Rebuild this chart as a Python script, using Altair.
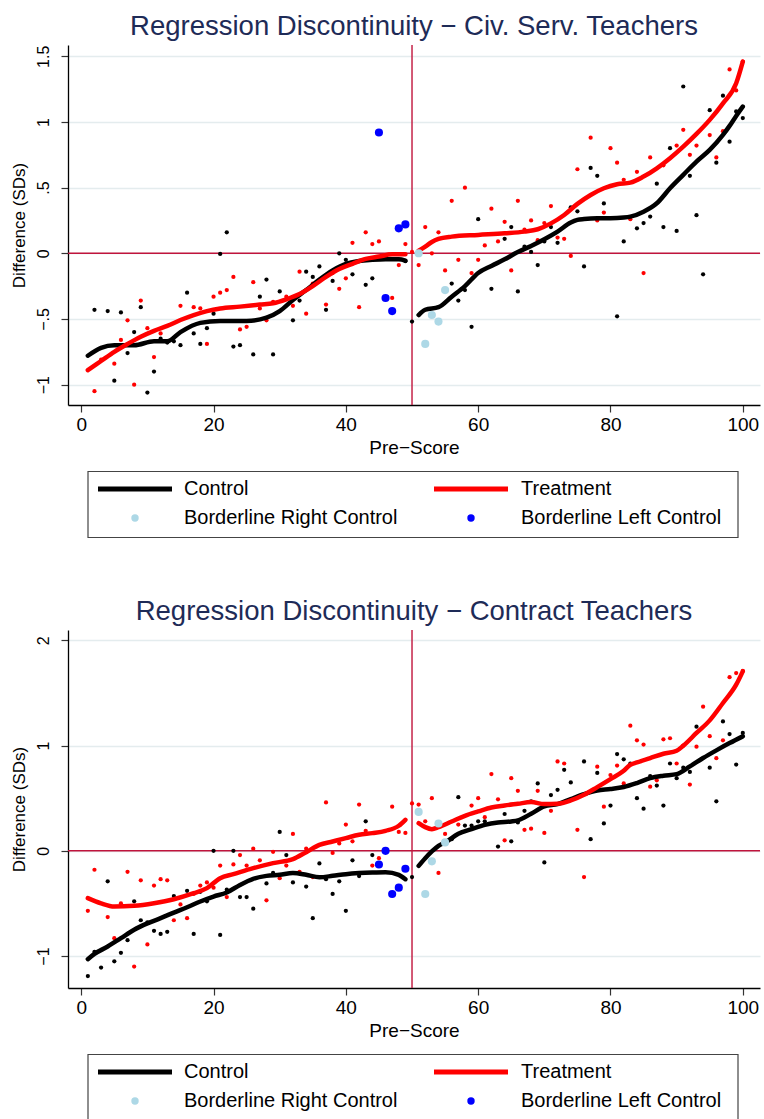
import altair as alt
import pandas as pd

FONT = "Liberation Sans"
TITLE_COLOR = "#1e2b57"
REF_COLOR = "#c0143c"
GRID_COLOR = "#e4ecee"

# ---------------- Panel 1: Civ. Serv. Teachers ----------------
P1_TITLE = "Regression Discontinuity \u2212 Civ. Serv. Teachers"
P1_CTRL_X = [2, 4, 5, 6, 7, 8, 9, 10, 11, 12, 13, 14, 15, 16, 17, 18, 19, 20, 21, 22, 23, 24, 26, 27, 28, 29, 30,
             32, 33, 34, 35, 36, 37, 38, 39, 40, 41, 42, 43, 44, 49, 50,
             56, 57, 58, 59, 60, 62, 64, 65, 66, 67, 68, 69, 70, 71, 72, 74, 75, 76, 77, 78, 79, 81, 82, 84, 85,
             86, 87, 88, 89, 90, 91, 92, 93, 94, 95, 96, 97, 98, 99, 100]
P1_CTRL_Y = [-0.43, -0.44, -0.97, -0.45, -0.76, -0.60, -0.41, -1.06, -0.90, -0.65, -0.68, -0.67, -0.70, -0.30, -0.61,
             -0.69, -0.57, -0.46, -0.005, 0.16, -0.71, -0.70, -0.77, -0.33, -0.20, -0.77, -0.29,
             -0.51, -0.36, -0.14, -0.18, -0.10, -0.43, -0.21, 0.0, -0.05, -0.16, -0.06, -0.24, -0.19, -0.06, -0.52,
             -0.23, -0.36, -0.28, -0.56, 0.26, -0.27, 0.11, 0.20, -0.29, 0.05, 0.01, -0.09, 0.09, 0.20, 0.08, 0.35,
             0.32, -0.10, 0.65, 0.59, 0.38, -0.48, 0.09, 0.19, 0.23,
             0.28, 0.53, 0.20, 0.80, 0.17, 1.27, 0.59, 0.29, -0.16, 1.09, 0.69, 1.20, 0.85, 1.08, 1.03]
P1_TREAT_X = [2, 3, 5, 6, 7, 8, 9, 10, 11, 12, 15, 17, 18, 19, 20, 21, 22, 23, 24, 25, 26, 27, 28, 29, 31, 32, 33,
              34, 35, 37, 38, 39, 40, 41, 42, 43, 44, 45, 47, 48, 49, 50, 51,
              52, 53, 54, 55, 56, 57, 58, 59, 60, 61, 62, 63, 64, 65, 66, 67, 68, 69, 70, 71, 72, 73, 74, 75, 77,
              78, 79, 80, 81, 82, 83, 84, 85, 86, 88, 90, 91, 92, 93, 95, 96, 97, 98, 99, 100]
P1_TREAT_Y = [-1.05, -0.81, -0.84, -0.66, -0.51, -1.00, -0.36, -0.57, -0.79, -0.61, -0.40, -0.41, -0.42, -0.69,
              -0.33, -0.30, -0.28, -0.18, -0.58, -0.56, -0.22, -0.42, -0.51, -0.37, -0.33, -0.40, -0.14,
              -0.46, -0.23, -0.39, -0.15, -0.27, -0.19, 0.08, -0.41, 0.16, 0.07, 0.09, -0.34, -0.09, 0.07, 0.01, -0.09,
              0.20, 0.0, 0.16, -0.13, 0.40, -0.05, 0.50, -0.15, -0.05, 0.06, 0.34, 0.09, 0.24, -0.13, 0.40, 0.18,
              0.25, 0.10, 0.23, 0.36, 0.12, 0.11, -0.02, 0.64, 0.88,
              0.25, 0.31, 0.80, 0.69, 0.56, 0.26, 0.62, -0.15, 0.73, 0.67, 0.82, 0.94, 0.75, 0.82, 0.90, 0.73, 0.93,
              1.40, 1.24, 1.46]
P1_BLUE_X = [45, 46, 47, 48, 49]
P1_BLUE_Y = [0.92, -0.34, -0.44, 0.19, 0.22]
P1_LBLUE_X = [51, 52, 53, 54, 55]
P1_LBLUE_Y = [0.0, -0.69, -0.47, -0.52, -0.28]
P1_CL_X = [1, 3, 5, 8, 11, 13, 15, 18, 21, 25, 28, 30, 32, 34, 36, 38, 40, 42, 44, 46, 48, 49]
P1_CL_Y = [-0.78, -0.72, -0.70, -0.70, -0.67, -0.67, -0.60, -0.53, -0.515, -0.515, -0.49, -0.44, -0.355, -0.28,
           -0.20, -0.13, -0.08, -0.058, -0.05, -0.046, -0.046, -0.056]
P1_TL_X = [1, 3, 5, 7, 9, 11, 13, 15, 17, 19, 21, 24, 27, 29, 31, 33, 35, 37, 39, 41, 43, 45, 47, 49]
P1_TL_Y = [-0.89, -0.82, -0.75, -0.69, -0.635, -0.59, -0.553, -0.508, -0.47, -0.44, -0.42, -0.406, -0.39, -0.38,
           -0.35, -0.31, -0.25, -0.18, -0.12, -0.08, -0.043, -0.025, -0.008, -0.008]
P1_CR_X = [51, 52, 54, 56, 58, 60, 62, 64, 66, 68, 70, 72, 74, 75, 76, 78, 80, 82, 83, 85, 87, 89, 91, 93, 95, 97,
           98, 99, 100]
P1_CR_Y = [-0.47, -0.43, -0.41, -0.33, -0.25, -0.15, -0.096, -0.046, 0.01, 0.056, 0.107, 0.165, 0.234, 0.254, 0.261,
           0.267, 0.267, 0.272, 0.279, 0.317, 0.381, 0.495, 0.597, 0.698, 0.787, 0.901, 0.97, 1.046, 1.117]
P1_TR_X = [51, 52, 53, 54, 56, 60, 64, 67, 69, 71, 73, 75, 77, 79, 81, 83, 85, 87, 89, 91, 93, 95, 97, 99, 100]
P1_TR_Y = [0.02, 0.051, 0.086, 0.109, 0.127, 0.14, 0.152, 0.165, 0.183, 0.228, 0.292, 0.376, 0.444, 0.495, 0.526,
           0.538, 0.584, 0.647, 0.724, 0.812, 0.909, 1.016, 1.142, 1.295, 1.46]
P1_YDOMAIN = [-1.155, 1.586]
P1_YTICKS = [-1, -0.5, 0, 0.5, 1, 1.5]

# ---------------- Panel 2: Contract Teachers ----------------
P2_TITLE = "Regression Discontinuity \u2212 Contract Teachers"
P2_CTRL_X = [1, 2, 3, 4, 5, 6, 7, 8, 9, 10, 11, 12, 13, 14, 16, 17, 18, 19, 20, 21, 22, 23, 24, 25, 26, 28, 29, 30,
             31, 32, 34, 35, 36, 37, 38, 39, 40, 41, 42, 43, 44, 50,
             56, 57, 58, 59, 60, 61, 63, 64, 65, 66, 67, 68, 69, 70, 71, 72, 73, 74, 76, 77, 78, 79, 80, 81, 82, 83,
             84, 85, 86, 87, 88, 89, 90, 91, 92, 93, 95, 96, 97, 98, 99, 100]
P2_CTRL_Y = [-1.19, -0.96, -1.11, -0.29, -1.05, -0.97, -0.85, -0.48, -0.66, -0.68, -0.76, -0.79, -0.77, -0.43,
             -0.38, -0.79, -0.39, -0.48, 0.0, -0.80, -0.37, 0.0, -0.44, -0.44, -0.55, -0.31, -0.21, 0.18,
             -0.04, -0.30, -0.34, -0.64, -0.12, -0.27, -0.41, -0.29, -0.57, -0.09, -0.24, 0.28, -0.04, -0.25,
             0.11, 0.51, 0.24, 0.24, 0.28, 0.28, 0.04, 0.35, 0.09, 0.27, 0.38, 0.47, 0.64, -0.11, 0.53, 0.58, 0.77,
             0.65, 0.85, 0.11, 0.74, 0.26, 0.43, 0.92, 0.87, 0.83,
             0.50, 0.40, 0.71, 0.62, 0.43, 0.83, 0.69, 0.79, 0.75, 1.18, 0.79, 0.47, 1.23, 1.11, 0.82, 1.12]
P2_TREAT_X = [1, 2, 4, 5, 6, 7, 8, 9, 10, 11, 12, 13, 14, 15, 16, 17, 18, 19, 20, 21, 22, 23, 24, 25, 26, 27, 28,
              29, 30, 31, 32, 33, 34, 35, 37, 38, 39, 40, 41, 42, 43, 44, 45, 47, 48, 49, 50, 51,
              52, 53, 54, 55, 57, 59, 60, 61, 62, 63, 64, 65, 66, 67, 68, 69, 70, 71, 72, 73, 75, 76, 78, 79, 80,
              81, 82, 83, 84, 85, 86, 87, 88, 89, 90, 91, 92, 93, 94, 95, 96, 97, 98, 99, 100]
P2_TREAT_Y = [-0.57, -0.18, -0.63, -0.83, -0.50, -0.20, -1.10, -0.28, -0.89, -0.33, -0.27, -0.28, -0.66, -0.51,
              -0.64, -0.41, -0.33, -0.30, -0.35, -0.14, -0.44, -0.13, -0.04, -0.14, 0.02, -0.09, -0.47,
              -0.01, -0.26, -0.14, 0.16, -0.20, 0.02, -0.25, 0.46, -0.02, 0.07, 0.25, 0.09, 0.44, 0.19, -0.14, -0.07,
              0.42, 0.18, 0.17, 0.45, 0.44,
              0.28, 0.50, -0.21, 0.16, 0.25, 0.43, 0.50, 0.32, 0.73, 0.49, 0.10, 0.69, 0.57, 0.20, 0.21, 0.57, 0.17,
              0.38, 0.85, 0.83, 0.20, -0.25, 0.80, 0.42, 0.72,
              0.81, 0.64, 1.19, 1.05, 1.01, 0.61, 0.67, 1.06, 1.07, 0.83, 1.00, 0.63, 0.99, 1.37, 1.09, 0.88, 1.05,
              1.65, 1.69, 1.71]
P2_BLUE_X = [45, 46, 47, 48, 49]
P2_BLUE_Y = [-0.13, 0.0, -0.41, -0.35, -0.17]
P2_LBLUE_X = [51, 52, 53, 54, 55]
P2_LBLUE_Y = [0.37, -0.41, -0.10, 0.26, 0.08]
P2_CL_X = [1, 2, 4, 6, 8, 10, 12, 14, 16, 18, 20, 22, 24, 26, 28, 30, 32, 34, 36, 38, 40, 42, 44, 46, 48, 49]
P2_CL_Y = [-1.03, -0.98, -0.91, -0.83, -0.75, -0.69, -0.64, -0.587, -0.536, -0.482, -0.435, -0.396, -0.324, -0.266,
           -0.238, -0.228, -0.212, -0.228, -0.251, -0.238, -0.222, -0.212, -0.206, -0.203, -0.228, -0.27]
P2_TL_X = [1, 3, 5, 8, 11, 14, 17, 19, 21, 23, 26, 29, 32, 34, 36, 38, 40, 42, 44, 46, 48, 49]
P2_TL_Y = [-0.45, -0.50, -0.53, -0.523, -0.498, -0.46, -0.403, -0.355, -0.26, -0.222, -0.165, -0.117, -0.079,
           -0.013, 0.057, 0.089, 0.121, 0.152, 0.168, 0.19, 0.238, 0.295]
P2_CR_X = [51, 52, 53, 54, 55, 57, 59, 61, 63, 65, 66, 68, 70, 72, 74, 76, 78, 80, 82, 84, 86, 88, 90, 92, 94, 96,
           98, 100]
P2_CR_Y = [-0.143, -0.07, -0.006, 0.048, 0.079, 0.162, 0.206, 0.247, 0.27, 0.279, 0.289, 0.352, 0.422, 0.444, 0.492,
           0.539, 0.574, 0.587, 0.606, 0.644, 0.691, 0.714, 0.729, 0.802, 0.882, 0.955, 1.024, 1.088]
P2_TR_X = [51, 52, 53, 54, 56, 58, 60, 62, 64, 66, 68, 70, 72, 74, 76, 78, 80, 82, 83, 84, 86, 88, 90, 91, 93, 95,
           97, 99, 100]
P2_TR_Y = [0.263, 0.225, 0.206, 0.225, 0.279, 0.333, 0.374, 0.412, 0.431, 0.447, 0.463, 0.444, 0.447, 0.479, 0.533,
           0.606, 0.682, 0.761, 0.818, 0.84, 0.882, 0.923, 0.951, 0.999, 1.12, 1.24, 1.405, 1.579, 1.706]
P2_YDOMAIN = [-1.304, 2.099]
P2_YTICKS = [-1, 0, 1, 2]

X_DOMAIN = [-2, 102.6]
X_TICKS = [0, 20, 40, 60, 80, 100]
X_TITLE = "Pre\u2212Score"
Y_TITLE = "Difference (SDs)"

LEG_LABELS = ["Control", "Treatment", "Borderline Right Control", "Borderline Left Control"]
LEG_KINDS = ["line", "line", "dot", "dot"]
LEG_COLORS = ["black", "red", "lightblue", "blue"]

PLOT_W = 692


def pts(xs, ys, color):
    return pd.DataFrame({"x": xs, "y": ys, "c": color})


def line_df(parts):
    frames = []
    for name, xs, ys, color in parts:
        d = pd.DataFrame({"x": xs, "y": ys})
        d["g"] = name
        d["c"] = color
        frames.append(d)
    return pd.concat(frames, ignore_index=True)


def panel(title, ctrl, treat, lines, blue, lblue, ydom, yticks, h):
    xs = alt.Scale(domain=X_DOMAIN, nice=False, zero=False)
    ys = alt.Scale(domain=ydom, nice=False, zero=False)
    xaxis = alt.Axis(values=X_TICKS, title=X_TITLE, grid=False, tickSize=7, tickColor="#333", tickWidth=1.2,
                     domainColor="black", domainWidth=1.3, labelFontSize=19, labelPadding=3, labelFlush=False,
                     labelColor="black", titleFontSize=19, titleFontWeight="normal", titlePadding=4,
                     titleColor="black")
    yaxis = alt.Axis(values=yticks, title=Y_TITLE, grid=True, gridColor=GRID_COLOR, gridWidth=1.5, tickSize=7,
                     tickColor="#333", tickWidth=1.2, domainColor="black", domainWidth=1.3, labelFontSize=16,
                     labelAngle=270, labelAlign="center", labelBaseline="bottom", labelPadding=10,
                     labelFlush=False, labelOverlap=False, labelColor="black",
                     labelExpr="replace(format(datum.value, '.1~f'), '0.', '.')",
                     titleFontSize=17, titleFontWeight="normal", titlePadding=7, titleColor="black")
    X = alt.X("x:Q", scale=xs, axis=xaxis)
    Y = alt.Y("y:Q", scale=ys, axis=yaxis)
    ref = pd.DataFrame({"x": [50], "y": [0]})
    vline = alt.Chart(ref).mark_rule(color=REF_COLOR, strokeWidth=1.4).encode(x=X)
    hline = alt.Chart(ref).mark_rule(color=REF_COLOR, strokeWidth=1.4).encode(y=Y)
    dots = alt.Chart(pd.concat([ctrl, treat], ignore_index=True)).mark_circle(size=18, opacity=1).encode(
        x=X, y=Y, color=alt.Color("c:N", scale=None))
    ln = alt.Chart(lines).mark_line(strokeWidth=4.5, interpolate="monotone", strokeCap="round").encode(
        x=X, y=Y, detail="g:N", color=alt.Color("c:N", scale=None))
    bd = alt.Chart(pd.concat([blue, lblue], ignore_index=True)).mark_circle(size=66, opacity=1).encode(
        x=X, y=Y, color=alt.Color("c:N", scale=None))
    return alt.layer(vline, hline, dots, ln, bd).properties(
        width=PLOT_W, height=h,
        title=alt.TitleParams(title, fontSize=27.5, fontWeight="normal", color=TITLE_COLOR, anchor="middle",
                              frame="group", baseline="alphabetic", offset=-18))


def legend_chart():
    rows = []
    for i, (lab, kind, col) in enumerate(zip(LEG_LABELS, LEG_KINDS, LEG_COLORS)):
        c, r = i % 2, i // 2
        cx = 67 + c * 336
        rows.append({"label": lab, "kind": kind, "c": col, "cx": cx, "x1": cx - 37, "x2": cx + 37,
                     "tx": 116 + c * 337, "yy": 18 + r * 29})
    df = pd.DataFrame(rows)
    box = alt.Chart(pd.DataFrame({"a": [0]})).mark_rect(fill="white", fillOpacity=0, stroke="#444",
                                                        strokeWidth=1.2).encode(
        x=alt.value(20), x2=alt.value(670), y=alt.value(0.5), y2=alt.value(66.5))
    rules = alt.Chart(df[df["kind"] == "line"]).mark_rule(strokeWidth=5).encode(
        x=alt.X("x1:Q", scale=None), x2="x2:Q", y=alt.Y("yy:Q", scale=None), color=alt.Color("c:N", scale=None))
    dots = alt.Chart(df[df["kind"] == "dot"]).mark_circle(size=55, opacity=1).encode(
        x=alt.X("cx:Q", scale=None), y=alt.Y("yy:Q", scale=None), color=alt.Color("c:N", scale=None))
    texts = alt.Chart(df).mark_text(align="left", baseline="middle", fontSize=20, color="black").encode(
        x=alt.X("tx:Q", scale=None), y=alt.Y("yy:Q", scale=None), text="label:N")
    return alt.layer(box, rules, dots, texts).properties(width=PLOT_W, height=67)


p1 = panel(P1_TITLE,
           pts(P1_CTRL_X, P1_CTRL_Y, "black"), pts(P1_TREAT_X, P1_TREAT_Y, "red"),
           line_df([("CL", P1_CL_X, P1_CL_Y, "black"), ("CR", P1_CR_X, P1_CR_Y, "black"),
                    ("TL", P1_TL_X, P1_TL_Y, "red"), ("TR", P1_TR_X, P1_TR_Y, "red")]),
           pts(P1_BLUE_X, P1_BLUE_Y, "blue"), pts(P1_LBLUE_X, P1_LBLUE_Y, "lightblue"),
           P1_YDOMAIN, P1_YTICKS, 360)
p2 = panel(P2_TITLE,
           pts(P2_CTRL_X, P2_CTRL_Y, "black"), pts(P2_TREAT_X, P2_TREAT_Y, "red"),
           line_df([("CL", P2_CL_X, P2_CL_Y, "black"), ("CR", P2_CR_X, P2_CR_Y, "black"),
                    ("TL", P2_TL_X, P2_TL_Y, "red"), ("TR", P2_TR_X, P2_TR_Y, "red")]),
           pts(P2_BLUE_X, P2_BLUE_Y, "blue"), pts(P2_LBLUE_X, P2_LBLUE_Y, "lightblue"),
           P2_YDOMAIN, P2_YTICKS, 358)

top = alt.vconcat(p1, legend_chart(), spacing=13)
bot = alt.vconcat(p2, legend_chart(), spacing=13)
chart = alt.vconcat(top, bot, spacing=58).properties(
    padding={"left": 10, "top": 12, "right": 0, "bottom": 0}
).configure(font=FONT, background="white").configure_view(strokeWidth=0)

chart.save("out.html", embed_options={"renderer": "svg", "actions": False})
